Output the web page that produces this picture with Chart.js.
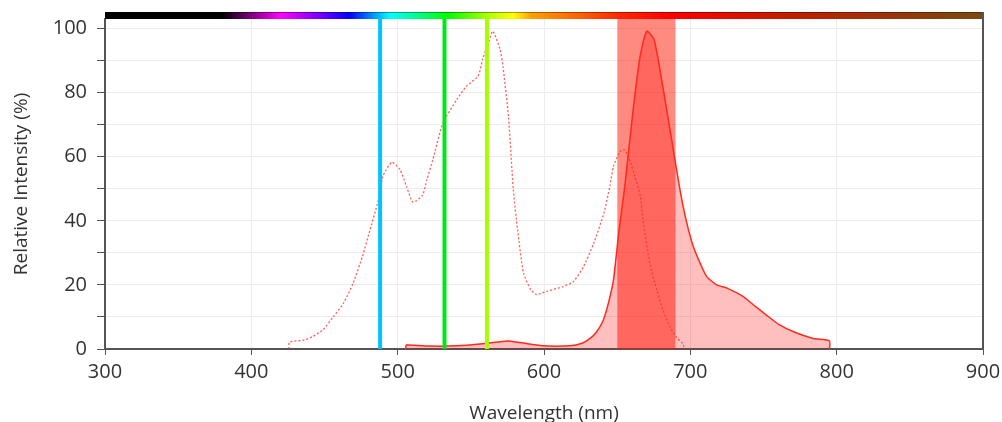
<!DOCTYPE html>
<html>
<head>
<meta charset="utf-8">
<script src="https://cdn.jsdelivr.net/npm/chart.js@4"></script>
<style>
  html, body { margin: 0; padding: 0; background: #fff; overflow: hidden; }
  #wrap { width: 1002px; height: 430px; }
</style>
</head>
<body>
<div id="wrap"><canvas id="chart" width="1002" height="430"></canvas></div>
<script>
// excitation spectrum (dotted)
const exWl = [425.8, 426, 436, 442, 449, 456, 463, 469.6, 476, 481, 486, 488, 490, 496, 501.6, 506, 510.5, 517, 520, 524, 531, 540.5, 547, 555, 558, 562, 565, 570, 572, 575.7, 579, 582, 586, 591, 595, 602, 613, 620, 627, 634, 641, 645, 647.5, 652, 655, 658.5, 662, 665.7, 667.7, 672.3, 677, 681.4, 686, 691, 694.4, 695.6, 695.7]
const exVal = [0, 2.1, 2.8, 3.9, 6, 10, 14.3, 20.6, 29, 37, 45, 48.5, 54, 58.3, 56, 50.8, 45.8, 48, 52.9, 59, 70.6, 77.9, 82, 85.2, 90.4, 95.6, 99.2, 93.5, 88, 72.6, 50, 37, 23.7, 18.5, 17, 18, 19.5, 21, 25.7, 33, 42.5, 50.8, 57, 61.7, 62.2, 59, 54, 48, 40, 26.8, 18.5, 12, 7, 3.4, 1.9, 0.7, 0]

// emission spectrum (filled)
const emWl = [505.7, 505.8, 522, 533.5, 547, 561, 575, 583.6, 599, 617.8, 626, 631.5, 636, 640.5, 644, 647.5, 651, 655, 661, 665.7, 670.2, 675.2, 680.4, 683.8, 690.6, 694, 697.6, 702, 706.7, 711.2, 718, 725, 736, 743, 752, 761, 770.5, 784, 795, 795.1]
const emVal = [0, 1.25, 0.9, 0.9, 1.2, 1.8, 2.5, 2, 1, 1, 1.8, 3.3, 5.4, 9, 14.3, 21.6, 36, 50, 75, 91.4, 99.2, 96.6, 84, 74.8, 56, 47, 39.3, 32, 26.8, 22.6, 20, 19, 16.4, 13.8, 10.6, 7.5, 5.4, 3.3, 2.6, 0]

// laser lines and detection band
const laserWl = [488, 532, 561]
const laserColors = ['#00c3ff', '#00e61a', '#a6ff00']
const bandWl = [650, 690]

// spectrum bar colours
const specWl = [300, 380, 420, 445, 467, 495, 515, 534, 561, 579, 591, 625, 650, 686, 770, 900]
const specColors = ['#000000', '#000000', '#ff00ff', '#8000ff', '#0000ff', '#00ffff', '#00ff80', '#00ff00', '#aaff00', '#ffff00', '#ffa000', '#ff6000', '#ff2a00', '#ff0000', '#c01e00', '#7a4a10']

const yMax = 103
const yTicks = [0, 10, 20, 30, 40, 50, 60, 70, 80, 90, 100]
const toXY = (xs, ys) => xs.map((x, i) => ({ x, y: ys[i] }))

const datasets = []

datasets.push({
  data: [{ x: bandWl[0], y: yMax }, { x: bandWl[1], y: yMax }],
  borderWidth: 0,
  pointRadius: 0,
  fill: 'origin',
  backgroundColor: 'rgba(255, 22, 0, 0.5)',
  order: 4
})

datasets.push({
  data: toXY(emWl, emVal),
  borderColor: '#ff2a1a',
  borderWidth: 1.5,
  pointRadius: 0,
  fill: 'origin',
  backgroundColor: 'rgba(255, 0, 0, 0.25)',
  tension: 0.2,
  order: 3
})

datasets.push({
  data: toXY(exWl, exVal),
  borderColor: 'rgba(255, 40, 30, 0.75)',
  borderWidth: 1.3,
  borderDash: [2, 2],
  pointRadius: 0,
  fill: false,
  tension: 0.2,
  order: 2
})

laserWl.forEach((wl, i) => {
  datasets.push({
    data: [{ x: wl, y: 0 }, { x: wl, y: yMax }],
    borderColor: laserColors[i],
    borderWidth: 4,
    pointRadius: 0,
    fill: false,
    order: 1
  })
})

const spectrumBar = {
  id: 'spectrumBar',
  afterDraw(chart) {
    const { ctx, chartArea } = chart
    const x = chart.scales.x
    const left = chartArea.left, right = chartArea.right
    const grad = ctx.createLinearGradient(left, 0, right, 0)
    specWl.forEach((wl, i) => {
      const p = (x.getPixelForValue(wl) - left) / (right - left)
      grad.addColorStop(Math.min(1, Math.max(0, p)), specColors[i])
    })
    ctx.save()
    ctx.fillStyle = grad
    ctx.fillRect(left, chartArea.top - 7, right - left, 7)
    ctx.strokeStyle = 'rgba(0, 0, 0, 0.35)'
    ctx.lineWidth = 1
    ctx.beginPath()
    ctx.moveTo(left, chartArea.top - 6.5)
    ctx.lineTo(right, chartArea.top - 6.5)
    ctx.stroke()
    // right border
    ctx.strokeStyle = '#555'
    ctx.lineWidth = 2
    ctx.beginPath()
    ctx.moveTo(right, chartArea.top - 7)
    ctx.lineTo(right, chartArea.bottom)
    ctx.stroke()
    ctx.restore()
  }
}

Chart.defaults.font.family = '"Open Sans", sans-serif'
Chart.defaults.color = '#333'

new Chart(document.getElementById('chart'), {
  type: 'line',
  data: { datasets },
  options: {
    responsive: false,
    animation: false,
    layout: { padding: { left: 0, right: 19, top: 19, bottom: 0 } },
    plugins: { legend: { display: false }, tooltip: { enabled: false } },
    scales: {
      x: {
        type: 'linear',
        min: 300,
        max: 900,
        afterFit: s => { s.height = 81; s.paddingLeft = 0; s.paddingRight = 0 },
        ticks: { stepSize: 100, font: { size: 20 }, padding: 5, maxRotation: 0 },
        grid: { color: '#ececec', tickColor: '#555', tickLength: 6 },
        border: { color: '#555', width: 2 },
        title: { display: true, text: 'Wavelength (nm)', font: { size: 19 }, padding: { top: 0, bottom: 5 } }
      },
      y: {
        min: 0,
        max: yMax,
        afterFit: s => { s.width = 105; s.paddingTop = 0; s.paddingBottom = 0 },
        afterBuildTicks: s => { s.ticks = yTicks.map(v => ({ value: v })) },
        ticks: { font: { size: 20 }, padding: 10, callback: v => v % 20 === 0 ? v : '' },
        grid: { color: '#ececec', tickColor: '#555', tickLength: 8 },
        border: { color: '#555', width: 2 },
        title: { display: true, text: 'Relative Intensity (%)', font: { size: 19 }, padding: { top: 10.5, bottom: 0 } }
      }
    }
  },
  plugins: [spectrumBar]
})
</script>
</body>
</html>
